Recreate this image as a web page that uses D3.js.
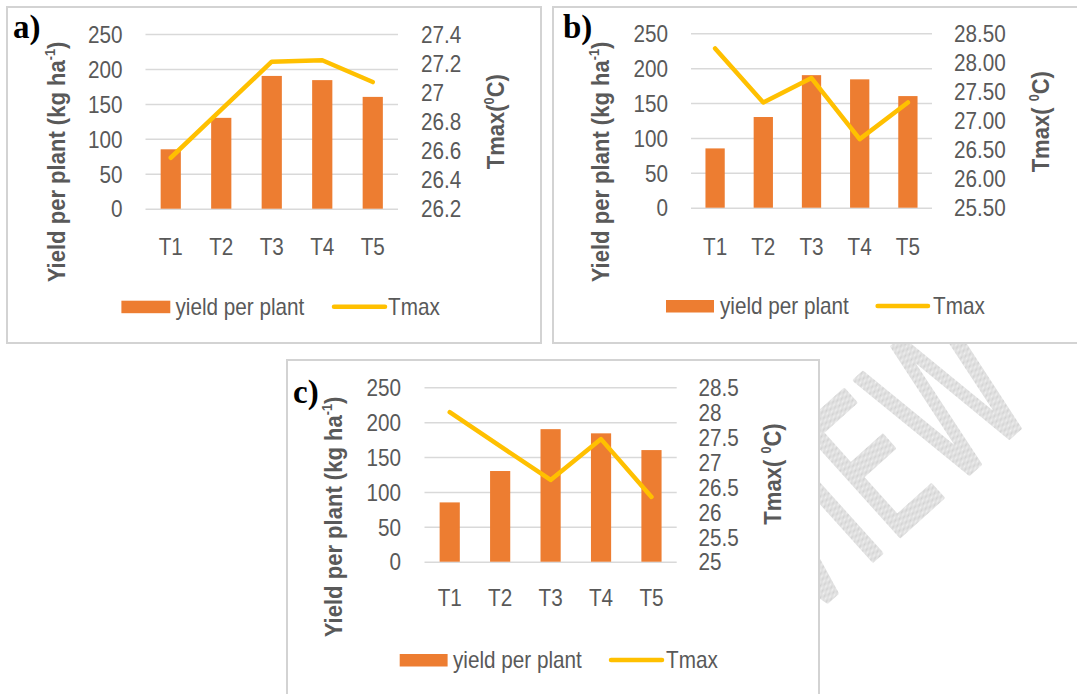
<!DOCTYPE html>
<html>
<head>
<meta charset="utf-8">
<script src="https://cdn.jsdelivr.net/npm/d3@7"></script>
<style>
  body { margin: 0; background: #fff; }
  svg { display: block; }
</style>
</head>
<body>
<div id="chart"></div>
<script>
// ---------------------------------------------------------------------------
// Data
// ---------------------------------------------------------------------------
const categories = ["T1", "T2", "T3", "T4", "T5"]
const yieldPerPlant = [85, 130, 190, 184, 160]
const tmaxA = [26.55, 26.88, 27.21, 27.22, 27.07]
const tmaxB = [28.24, 27.31, 27.73, 26.68, 27.31]
const tmaxC = [28.0, 27.32, 26.64, 27.46, 26.3]
const yieldTicks = [0, 50, 100, 150, 200, 250]
const tmaxTicksA = [26.2, 26.4, 26.6, 26.8, 27, 27.2, 27.4]
const tmaxTicksB = [25.5, 26, 26.5, 27, 27.5, 28, 28.5]
const tmaxTicksC = [25, 25.5, 26, 26.5, 27, 27.5, 28, 28.5]

// ---------------------------------------------------------------------------
// Styling
// ---------------------------------------------------------------------------
const FONT = "'Liberation Sans', Arial, sans-serif"
const SX = 0.9   // horizontal squeeze, the original font is narrow
const COLORS = {
  bar: "#ED7D31",
  line: "#FFC000",
  grid: "#D9D9D9",
  text: "#595959",
  border: "#D3D3D3"
}

const panels = [
  {
    label: "a)", tmax: tmaxA, ticks: tmaxTicksA, fmt: d3.format(""), title: "Tmax(",
    box: [7, 7, 541, 343], plot: [145.5, 398, 34, 208.7],
    leftTickX: 122.5, rightTickX: 421, leftTitle: [56, 162], rightTitle: [495, 121.7],
    labelPos: [13, 38], catY: 246.7,
    legend: { y: 306.7, rect: [121.4, 170.3], text: 175.5, line: [334, 385], text2: 388 }
  },
  {
    label: "b)", tmax: tmaxB, ticks: tmaxTicksB, fmt: d3.format(".2f"), title: "Tmax( ",
    box: [553, 7, 1090, 343], plot: [691, 932, 33.3, 207.7],
    leftTickX: 668, rightTickX: 954, leftTitle: [600, 162], rightTitle: [1040, 121.7],
    labelPos: [563, 38], catY: 246.7,
    legend: { y: 306, rect: [666, 714], text: 720, line: [877.6, 928], text2: 933 }
  },
  {
    label: "c)", tmax: tmaxC, ticks: tmaxTicksC, fmt: d3.format(""), title: "Tmax( ",
    box: [287, 360, 819, 710], plot: [424.5, 676.7, 387.3, 561.7],
    leftTickX: 401, rightTickX: 698.5, leftTitle: [333, 517], rightTitle: [772, 474],
    labelPos: [293, 403], catY: 598,
    legend: { y: 660, rect: [399.7, 447.6], text: 453, line: [611, 662], text2: 666 }
  }
]

const svg = d3.select("#chart")
  .append("svg")
  .attr("width", 1077)
  .attr("height", 694)

// dithered grey fill for the watermark
const pattern = svg.append("defs").append("pattern")
  .attr("id", "dither")
  .attr("patternUnits", "userSpaceOnUse")
  .attr("width", 2).attr("height", 2)
pattern.append("rect").attr("width", 2).attr("height", 2).attr("fill", "#f0f0f0")
pattern.append("rect").attr("width", 1).attr("height", 1).attr("fill", "#d0d0d0")
pattern.append("rect").attr("x", 1).attr("y", 1).attr("width", 1).attr("height", 1).attr("fill", "#d0d0d0")

// faint "PREVIEW" watermark, only shows between the panels
svg.append("text")
  .attr("transform", "translate(1040,410) rotate(-42) scale(0.62,1)")
  .attr("text-anchor", "end")
  .attr("font-family", "'DejaVu Sans', sans-serif")
  .attr("font-size", 200)
  .attr("fill", "url(#dither)")
  .attr("stroke", "url(#dither)")
  .attr("stroke-width", 4)
  .attr("stroke-linejoin", "round")
  .text("PREVIEW")

panels.forEach(p => drawPanel(p))

function drawPanel(p) {
  const [bx0, by0, bx1, by1] = p.box
  const [x0, x1, yTop, yBottom] = p.plot
  const g = svg.append("g")

  // panel frame
  g.append("rect")
    .attr("x", bx0).attr("y", by0)
    .attr("width", bx1 - bx0).attr("height", by1 - by0)
    .attr("fill", "#fff")
    .attr("stroke", COLORS.border)
    .attr("stroke-width", 2)

  // scales
  const x = d3.scaleBand()
    .domain(categories)
    .range([x0, x1])
    .paddingInner(0.6)
    .paddingOuter(0.3)
  const yLeft = d3.scaleLinear().domain([0, 250]).range([yBottom, yTop])
  const yRight = d3.scaleLinear()
    .domain(d3.extent(p.ticks))
    .range([yBottom, yTop])

  // gridlines
  const grid = g.append("g")
    .attr("transform", `translate(${x0},0)`)
    .call(d3.axisRight(yLeft).tickValues(yieldTicks).tickSize(x1 - x0).tickFormat(""))
  grid.select(".domain").remove()
  grid.selectAll("line").attr("stroke", COLORS.grid).attr("stroke-width", 1.5)

  // bars
  g.append("g").selectAll("rect")
    .data(yieldPerPlant)
    .join("rect")
    .attr("x", (d, i) => x(categories[i]))
    .attr("y", d => yLeft(d))
    .attr("width", x.bandwidth())
    .attr("height", d => yBottom - yLeft(d))
    .attr("fill", COLORS.bar)

  // Tmax line
  const line = d3.line()
    .x((d, i) => x(categories[i]) + x.bandwidth() / 2)
    .y(d => yRight(d))
  g.append("path")
    .datum(p.tmax)
    .attr("d", line)
    .attr("fill", "none")
    .attr("stroke", COLORS.line)
    .attr("stroke-width", 4.5)
    .attr("stroke-linejoin", "round")
    .attr("stroke-linecap", "round")

  // axes (tick labels only)
  const leftAxis = g.append("g")
    .attr("transform", `translate(${p.leftTickX},0)`)
    .call(d3.axisLeft(yLeft).tickValues(yieldTicks).tickSize(0).tickPadding(0))
  const rightAxis = g.append("g")
    .attr("transform", `translate(${p.rightTickX},0)`)
    .call(d3.axisRight(yRight).tickValues(p.ticks).tickFormat(p.fmt).tickSize(0).tickPadding(0))
  const bottomAxis = g.append("g")
    .attr("transform", `translate(0,${p.catY})`)
    .call(d3.axisBottom(x).tickSize(0).tickPadding(0))

  ;[leftAxis, rightAxis, bottomAxis].forEach(a => {
    a.select(".domain").remove()
    a.selectAll("text")
      .attr("font-family", FONT)
      .attr("font-size", 23)
      .attr("fill", COLORS.text)
      .attr("dy", "0.36em")
      .attr("transform", `scale(${SX},1)`)
  })

  // left axis title
  const lt = g.append("text")
    .attr("transform", `translate(${p.leftTitle[0]},${p.leftTitle[1]}) rotate(-90) scale(${SX},1)`)
    .attr("text-anchor", "middle")
    .attr("dy", "0.36em")
    .attr("font-family", FONT)
    .attr("font-weight", "bold")
    .attr("font-size", 24.5)
    .attr("fill", COLORS.text)
  lt.append("tspan").text("Yield per plant (kg ha")
  lt.append("tspan").attr("font-size", 14).attr("dy", -10).text("-1")
  lt.append("tspan").attr("dy", 10).text(")")

  // right axis title
  const rt = g.append("text")
    .attr("transform", `translate(${p.rightTitle[0]},${p.rightTitle[1]}) rotate(-90) scale(${SX},1)`)
    .attr("text-anchor", "middle")
    .attr("dy", "0.36em")
    .attr("font-family", FONT)
    .attr("font-weight", "bold")
    .attr("font-size", 24.5)
    .attr("fill", COLORS.text)
  rt.append("tspan").text(p.title)
  rt.append("tspan").attr("font-size", 14).attr("dy", -10).text("0")
  rt.append("tspan").attr("dy", 10).text("C)")

  // panel letter
  g.append("text")
    .attr("x", p.labelPos[0])
    .attr("y", p.labelPos[1])
    .attr("font-family", "'Liberation Serif', 'Times New Roman', serif")
    .attr("font-weight", "bold")
    .attr("font-size", 33)
    .attr("fill", "#000")
    .text(p.label)

  // legend
  const L = p.legend
  g.append("rect")
    .attr("x", L.rect[0]).attr("y", L.y - 6)
    .attr("width", L.rect[1] - L.rect[0]).attr("height", 12.5)
    .attr("fill", COLORS.bar)
  g.append("line")
    .attr("x1", L.line[0]).attr("x2", L.line[1])
    .attr("y1", L.y).attr("y2", L.y)
    .attr("stroke", COLORS.line)
    .attr("stroke-width", 4.5)
    .attr("stroke-linecap", "round")
  ;[[L.text, "yield per plant"], [L.text2, "Tmax"]].forEach(([tx, label]) => {
    g.append("text")
      .attr("transform", `translate(${tx},${L.y}) scale(${SX},1)`)
      .attr("dy", "0.36em")
      .attr("font-family", FONT)
      .attr("font-size", 23)
      .attr("fill", COLORS.text)
      .text(label)
  })
}
</script>
</body>
</html>
